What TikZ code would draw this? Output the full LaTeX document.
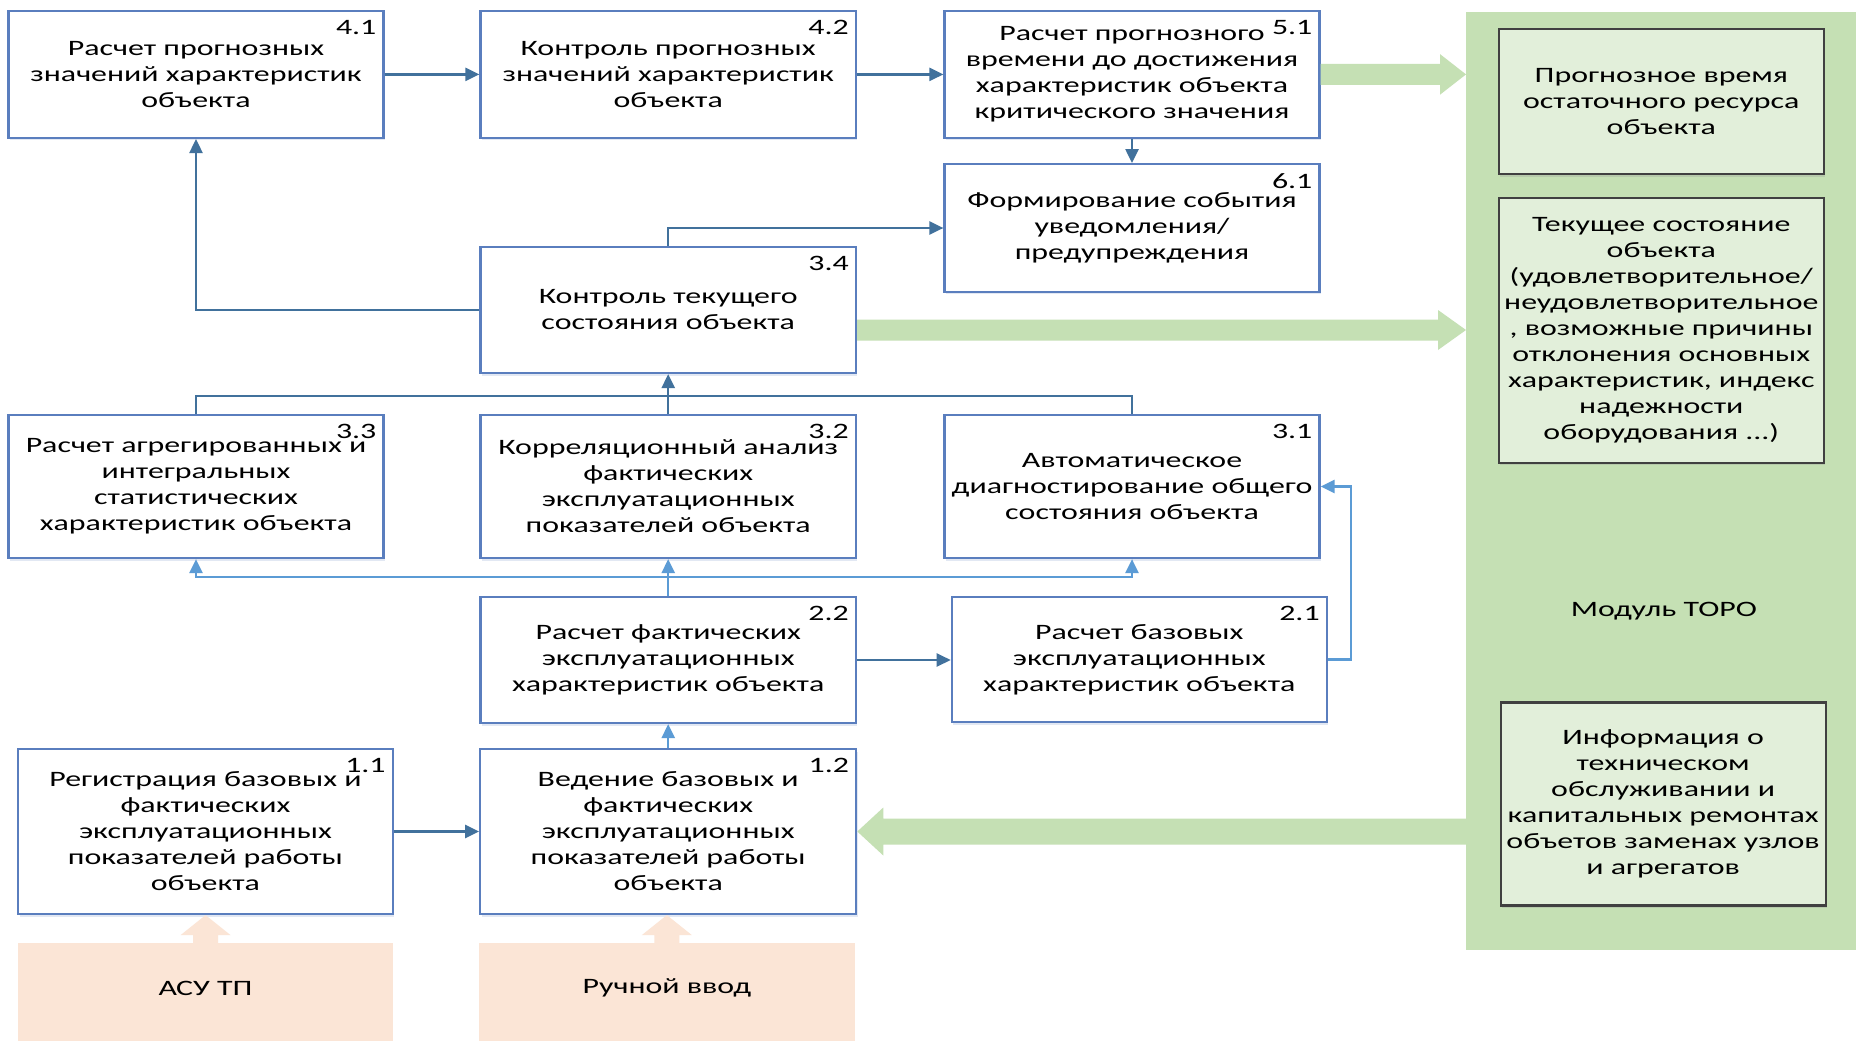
\documentclass[tikz,border=0pt]{standalone}
\usepackage{fontspec}
\setmainfont{Carlito}[FakeStretch=1.45]
\usetikzlibrary{arrows.meta,calc,shadows}
\definecolor{boxblue}{HTML}{5A7EBE}
\definecolor{darkln}{HTML}{41719C}
\definecolor{lightln}{HTML}{5B9BD5}
\definecolor{gpanel}{HTML}{C5E0B4}
\definecolor{gbox}{HTML}{E2EFDA}
\definecolor{gborder}{HTML}{404040}
\definecolor{peach}{HTML}{FBE5D6}
\newcommand{\harrow}[6]{%
  \fill[#1] let \p1=(#2), \p2=(#3) in
   (\x1,\y1+#4) -- (\x2-#6,\y1+#4) -- (\x2-#6,\y1+#5) -- (\x2,\y1)
   -- (\x2-#6,\y1-#5) -- (\x2-#6,\y1-#4) -- (\x1,\y1-#4) -- cycle;}
\newcommand{\varrow}[6]{%
  \fill[#1] let \p1=(#2), \p2=(#3) in
   (\x1+#4,\y1) -- (\x1+#4,\y2-#6) -- (\x1+#5,\y2-#6) -- (\x1,\y2)
   -- (\x1-#5,\y2-#6) -- (\x1-#4,\y2-#6) -- (\x1-#4,\y1) -- cycle;}
\begin{document}
\begin{tikzpicture}[x=1pt,y=-1pt,
  txt/.style={font=\fontsize{22}{26}\selectfont, align=center},
  procbox/.style={txt, draw=boxblue, line width=2.2pt, fill=white, inner sep=2pt,
    drop shadow={shadow xshift=1.5pt, shadow yshift=-2.5pt, fill=boxblue!50, opacity=0.35}},
  numlab/.style={anchor=north east, xshift=-8pt, yshift=-10pt, inner sep=0pt, font=\fontsize{22}{26}\selectfont},
  greenbox/.style={txt, draw=gborder, line width=2.2pt, fill=gbox, inner sep=2pt,
    drop shadow={shadow xshift=1.5pt, shadow yshift=-2.5pt, fill=black!40, opacity=0.3}},
  dk/.style={draw=darkln, line width=2.4pt},
  lt/.style={draw=lightln, line width=2.4pt},
  arr/.style={-{Triangle[length=14pt,width=13pt]}},
]
\useasboundingbox (0,0) rectangle (1856,1041);
\fill[white] (0,0) rectangle (1856,1041);

% green panel
\node[fill=gpanel, inner sep=0pt, minimum width=394pt, minimum height=938pt, anchor=north west] (panel) at (1466,11.7) {};
\node[txt] (toro) at (1664,611) {Модуль ТОРО};
\node[greenbox, minimum width=325pt, minimum height=145.3pt] (g1) at (1661.3,101.4)
  {Прогнозное время\\остаточного ресурса\\объекта};
\node[greenbox, minimum width=325pt, minimum height=264.7pt] (g2) at (1661.3,330.4)
  {Текущее состояние\\объекта\\(удовлетворительное/\\неудовлетворительное\\, возможные причины\\отклонения основных\\характеристик, индекс\\надежности\\оборудования ...)};
\node[greenbox, minimum width=325pt, minimum height=203pt] (g3) at (1663.1,804)
  {Информация о\\техническом\\обслуживании и\\капитальных ремонтах\\объетов заменах узлов\\и агрегатов};

% peach sources
\node[fill=peach, inner sep=0pt, minimum width=374.7pt, minimum height=102pt, anchor=north west] (asu) at (18,943) {};
\node[txt] (asul) at ([yshift=6pt]asu.center) {АСУ ТП};
\node[fill=peach, inner sep=0pt, minimum width=375.7pt, minimum height=102pt, anchor=north west] (man) at (478.8,943) {};
\node[txt] (manl) at ([yshift=6pt]man.center) {Ручной ввод};

% process boxes
\node[procbox, minimum width=375pt, minimum height=127pt, label={[numlab]north east:4.1}] (n41) at (196,74.4)
  {Расчет прогнозных\\значений характеристик\\объекта};
\node[procbox, minimum width=375.5pt, minimum height=127pt, label={[numlab]north east:4.2}] (n42) at (668.2,74.4)
  {Контроль прогнозных\\значений характеристик\\объекта};
\node[procbox, minimum width=375pt, minimum height=127pt, label={[numlab]north east:5.1}] (n51) at (1132,74.4)
  {Расчет прогнозного\\времени до достижения\\характеристик объекта\\критического значения};
\node[procbox, minimum width=375pt, minimum height=127.7pt, label={[numlab]north east:6.1}] (n61) at (1132,228)
  {Формирование события\\уведомления/\\предупреждения};
\node[procbox, minimum width=375.5pt, minimum height=126pt, label={[numlab]north east:3.4}] (n34) at (668.2,310)
  {Контроль текущего\\состояния объекта};
\node[procbox, minimum width=375pt, minimum height=143pt, label={[numlab]north east:3.3}] (n33) at (196,486.5)
  {Расчет агрегированных и\\интегральных\\статистических\\характеристик объекта};
\node[procbox, minimum width=375.5pt, minimum height=143pt, label={[numlab]north east:3.2}] (n32) at (668.2,486.5)
  {Корреляционный анализ\\фактических\\эксплуатационных\\показателей объекта};
\node[procbox, minimum width=375pt, minimum height=143pt, label={[numlab]north east:3.1}] (n31) at (1132,486.5)
  {Автоматическое\\диагностирование общего\\состояния объекта};
\node[procbox, minimum width=375.5pt, minimum height=126pt, label={[numlab]north east:2.2}] (n22) at (668.2,660)
  {Расчет фактических\\эксплуатационных\\характеристик объекта};
\node[procbox, minimum width=375pt, minimum height=125pt, label={[numlab]north east:2.1}] (n21) at (1139.3,659.5)
  {Расчет базовых\\эксплуатационных\\характеристик объекта};
\node[procbox, minimum width=374.7pt, minimum height=165pt, label={[numlab]north east:1.1}] (n11) at (205.4,831.5)
  {Регистрация базовых и\\фактических\\эксплуатационных\\показателей работы\\объекта};
\node[procbox, minimum width=376pt, minimum height=165pt, label={[numlab]north east:1.2}] (n12) at (668.2,831.5)
  {Ведение базовых и\\фактических\\эксплуатационных\\показателей работы\\объекта};

% block arrows
\coordinate (a1e) at (panel.west |- n51.east);
\coordinate (a2s) at ([yshift=-20pt]n34.east);
\coordinate (a2e) at (panel.west |- a2s);
\coordinate (a3s) at (panel.west |- n12.east);
\harrow{gpanel}{n51.east}{a1e}{10.5pt}{20.3pt}{26pt}
\harrow{gpanel}{a2s}{a2e}{10.5pt}{20pt}{28pt}
\harrow{gpanel}{a3s}{n12.east}{13pt}{24pt}{-26pt}
\varrow{peach}{asu.north}{n11.south}{12.5pt}{25pt}{20pt}
\varrow{peach}{man.north}{n12.south}{12.5pt}{25pt}{20pt}

% connectors
\coordinate (jtop) at (668.2,395.7);
\coordinate (jbot) at (668.2,576.7);
\coordinate (cr) at (1351,486.5);
\draw[dk,arr] (n41.east) -- (n42.west);
\draw[dk,arr] (n42.east) -- (n51.west);
\draw[dk,arr] (n51.south) -- (n61.north);
\draw[dk,arr] (n34.north) |- (n61.west);
\draw[dk,arr] (n34.west) -| (n41.south);
\draw[dk] (n33.north) |- (jtop) -| (n31.north);
\draw[dk,arr] (n32.north) -- (n34.south);
\draw[lt] (n22.north) -- (jbot);
\draw[lt,arr] (jbot) -- (n32.south);
\draw[lt,arr] (jbot) -| (n33.south);
\draw[lt,arr] (jbot) -| (n31.south);
\draw[lt,arr] (n12.north) -- (n22.south);
\draw[dk,arr] (n22.east) -- (n22.east -| n21.west);
\draw[dk,arr] (n11.east) -- (n12.west);
\draw[lt,arr] (n21.east) -| (cr) -- (n31.east);
\end{tikzpicture}
\end{document}
